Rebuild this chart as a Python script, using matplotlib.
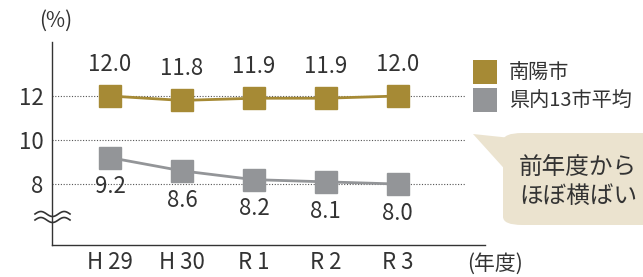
import matplotlib.pyplot as plt
import numpy as np
from matplotlib.patches import FancyBboxPatch, Polygon

plt.rcParams['font.family'] = ['Noto Sans CJK JP', 'DejaVu Sans']

years = ['H 29', 'H 30', 'R 1', 'R 2', 'R 3']
nanyo = [12.0, 11.8, 11.9, 11.9, 12.0]
ken13 = [9.2, 8.6, 8.2, 8.1, 8.0]
yticks = [8, 10, 12]

gold = '#a68a35'
gray = '#939598'
txt = '#333333'

fig = plt.figure(figsize=(6.43, 2.77), dpi=100)
ax = fig.add_axes([0.081, 0.1155, 0.673, 0.7325])
x = np.arange(len(years))

ax.set_xlim(-0.806, 5.21)
ax.set_ylim(5.23, 14.45)

for y in yticks:
    ax.plot([-0.806, 4.93], [y, y], color='#555555', lw=0.8, ls=(0, (1, 1.5)), zorder=1)

ax.plot(x, nanyo, color=gold, lw=2, marker='s', ms=15.5, zorder=3)
ax.plot(x, ken13, color=gray, lw=2, marker='s', ms=15.5, zorder=3)

for xi, v in zip(x, nanyo):
    ax.annotate(f'{v:.1f}', (xi, v), xytext=(0, 23), textcoords='offset points',
                ha='center', va='center', fontsize=16, color=txt)
for xi, v in zip(x, ken13):
    ax.annotate(f'{v:.1f}', (xi, v), xytext=(0, -21), textcoords='offset points',
                ha='center', va='center', fontsize=16, color=txt)

ax.set_xticks(x)
ax.set_xticklabels(years, fontsize=16, color=txt)
ax.set_yticks(yticks)
ax.set_yticklabels([str(t) for t in yticks], fontsize=16, color=txt)
ax.tick_params(length=0, pad=6)
ax.tick_params(axis='x', pad=4)
for s in ['top', 'right']:
    ax.spines[s].set_visible(False)
for s in ['left', 'bottom']:
    ax.spines[s].set_color('#333333')
    ax.spines[s].set_linewidth(1)

# break mark on the y axis
t = np.linspace(0, 1, 60)
for dy in (0, 6):
    xs = 35 + 35 * t
    ys = 277 - (214 + dy - 2.5 * np.sin(2 * np.pi * t * 1.5))
    fig.add_artist(plt.Line2D(xs / 643, ys / 277, color='#333333', lw=1.2))

fig.text(56 / 643, 1 - 21 / 277, '(%)', fontsize=15, color=txt, ha='center', va='center')
fig.text(495 / 643, 1 - 264 / 277, '(年度)', fontsize=15, color=txt, ha='center', va='center')

# legend
for i, (lab, c) in enumerate([('南陽市', gold), ('県内13市平均', gray)]):
    yc = 1 - (72 + 28 * i) / 277
    fig.patches.append(FancyBboxPatch((473 / 643, yc - 12 / 277), 24 / 643, 24 / 277,
                                      boxstyle='square,pad=0', fc=c, ec='none',
                                      transform=fig.transFigure, figure=fig))
    fig.text(509 / 643, yc, lab, fontsize=14.5, color=txt, va='center', ha='left')

# callout
bub = '#ebe3cf'
fig.patches.append(FancyBboxPatch((503 / 643, 1 - 225 / 277), 160 / 643, 92 / 277,
                                  boxstyle='round,pad=0,rounding_size=0.03', fc=bub, ec='none',
                                  transform=fig.transFigure, figure=fig))
fig.patches.append(Polygon([[473 / 643, 1 - 134 / 277], [530 / 643, 1 - 140 / 277],
                            [510 / 643, 1 - 175 / 277]], closed=True, fc=bub, ec='none',
                           transform=fig.transFigure, figure=fig))
fig.text(519 / 643, 1 - 167 / 277, '前年度から', fontsize=17, color=txt, va='center', ha='left')
fig.text(519 / 643, 1 - 196 / 277, 'ほぼ横ばい', fontsize=17, color=txt, va='center', ha='left')

fig.savefig('out.png', dpi=100)
